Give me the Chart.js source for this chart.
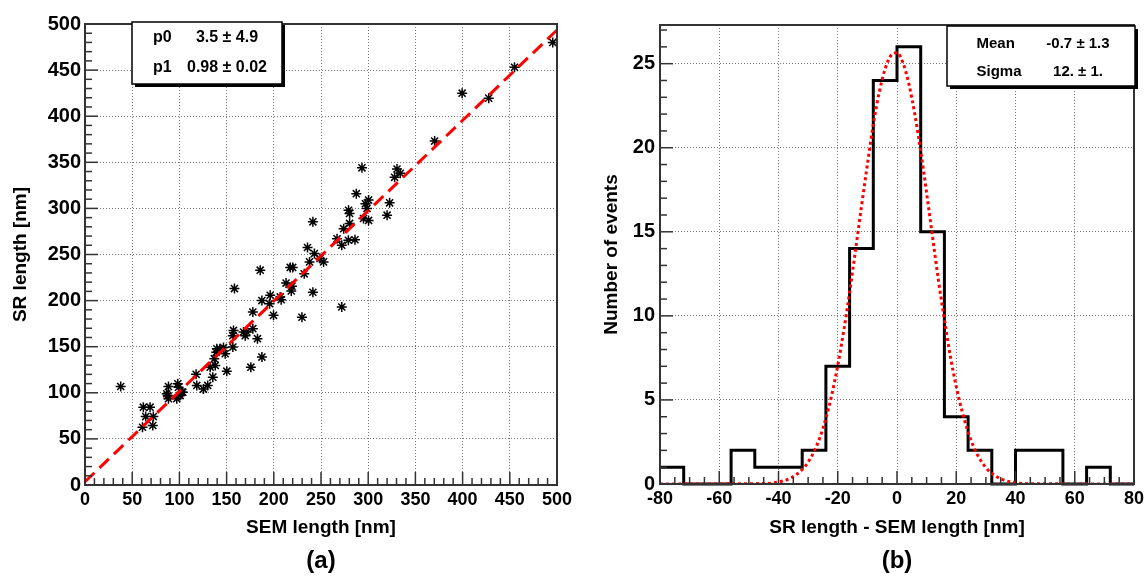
<!DOCTYPE html>
<html>
<head>
<meta charset="utf-8">
<script src="https://cdn.jsdelivr.net/npm/chart.js@4.4.1/dist/chart.umd.min.js"></script>
<style>
  body { margin: 0; background: #fff; width: 1146px; height: 576px; position: relative; overflow: hidden; font-family: "Liberation Sans", Arial, sans-serif; }
  .panel { position: absolute; top: 0; }
  .cap { position: absolute; top: 546px; width: 100px; text-align: center; font-weight: bold; font-size: 24px; line-height: 28px; }
</style>
</head>
<body>
<div class="panel" style="left:0"><canvas id="scatterChart" width="573" height="576"></canvas></div>
<div class="panel" style="left:573px"><canvas id="histChart" width="573" height="576"></canvas></div>
<div class="cap" style="left:271px">(a)</div>
<div class="cap" style="left:847px">(b)</div>
<script>
// (a) SR length vs SEM length, one entry per wire
const semLength = [495.5, 455, 427.7, 399.5, 370.4, 293.4, 330.5, 328, 334, 287.4,
  279.2, 280.3, 297, 300.4, 298.7, 295, 300.4, 280.3, 322.7, 320,
  241.4, 274, 267, 272, 279, 286, 235.7, 243, 249, 37.8,
  61.8, 68.9, 64.3, 72.4, 60.9, 71.8, 88.4, 87.7, 88.4, 98.3,
  99, 97.2, 102.5, 100.7, 117.7, 118.4, 125.5, 130, 132.6, 135.4,
  138, 137, 139, 139.7, 143, 146.7, 148.5, 150.2, 156.6, 156.6,
  157.3, 158.3, 167.9, 169.7, 171.5, 177.8, 182.7, 177.8, 175.7, 187.4,
  185.6, 196.2, 195.5, 187.4, 199.7, 206.8, 207.8, 213, 217.4, 219.2,
  218.5, 220, 232.2, 229.8, 241.4, 237.9, 252.7, 272, 86.6, 103.6];
const srLength = [480, 453, 419.6, 425, 373, 344, 342.7, 333.7, 338, 316,
  298, 294.6, 305, 309, 300, 289, 287, 283.7, 306, 292.7,
  285.4, 278, 267, 260, 265.5, 266, 257.6, 251, 245.6, 106.8,
  84.4, 84.4, 74.2, 74.2, 62.6, 64.5, 106.8, 97, 93.5, 109.8,
  106, 93.5, 100.7, 97, 120, 108, 104, 108, 127.8, 117,
  129.7, 137, 144, 147.8, 147.8, 149, 142.4, 123.5, 149.6, 162,
  167.7, 213, 165.9, 162, 165.9, 169.6, 158.7, 187.6, 127.8, 138.7,
  233, 205.8, 196.7, 200, 184, 204, 201, 219, 236, 215.5,
  210.4, 236, 229, 182, 209, 242, 242, 193, 99, 100.7];
// straight-line fit p0 + p1*x, drawn between its ends
const fitX = [0, 500];
const fitY = [3.5, 493.5];

// (b) histogram of SR - SEM, 8 nm bins
const binEdges = [-80, -72, -64, -56, -48, -40, -32, -24, -16, -8, 0, 8, 16, 24, 32, 40, 48, 56, 64, 72, 80];
const binCounts = [1, 0, 0, 2, 1, 1, 2, 7, 14, 24, 26, 15, 4, 2, 0, 2, 2, 0, 1, 0];
// gaussian fit curve
const gausX = [-80, -44, -40, -36, -32, -30, -28, -26, -24, -22, -20, -18, -16, -14, -12, -10, -8, -6, -4, -2,
  0, 2, 4, 6, 8, 10, 12, 14, 16, 18, 20, 22, 24, 26, 28, 30, 32, 36, 40, 44, 80];
const gausY = [0, 0.03, 0.12, 0.34, 0.86, 1.3, 1.93, 2.78, 3.9, 5.32, 7.05, 9.09, 11.4, 13.9, 16.5, 19.0, 21.4, 23.3, 24.7, 25.5,
  25.65, 25.05, 23.8, 22.0, 19.8, 17.3, 14.7, 12.1, 9.8, 7.6, 5.8, 4.3, 3.1, 2.16, 1.47, 0.98, 0.63, 0.24, 0.08, 0.02, 0];

const FONT = '"Liberation Sans", Arial, sans-serif';
Chart.defaults.font.family = FONT;
Chart.defaults.color = '#000';

// ROOT-like frame with ticks pointing into the plot
const rootAxes = {
  id: 'rootAxes',
  afterDatasetsDraw(chart, args, opts) {
    const { ctx, chartArea: a, scales: { x, y } } = chart;
    ctx.save();
    ctx.strokeStyle = '#333';
    ctx.lineWidth = 1.5;
    const isMajor = (v, step) => Math.abs(v / step - Math.round(v / step)) < 1e-6;
    for (let v = x.min; v <= x.max + 1e-6; v += opts.xMinor) {
      const px = x.getPixelForValue(v);
      const len = isMajor(v, opts.xMajor) ? 13 : 7;
      ctx.beginPath(); ctx.moveTo(px, a.bottom); ctx.lineTo(px, a.bottom - len); ctx.stroke();
    }
    for (let v = y.min; v <= y.max + 1e-6; v += opts.yMinor) {
      const py = y.getPixelForValue(v);
      const len = isMajor(v, opts.yMajor) ? 13 : 7;
      ctx.beginPath(); ctx.moveTo(a.left, py); ctx.lineTo(a.left + len, py); ctx.stroke();
    }
    ctx.lineWidth = 2;
    ctx.strokeRect(a.left, a.top, a.right - a.left, a.bottom - a.top);
    ctx.restore();
  }
};

// fit parameter box with drop shadow
const statBox = {
  id: 'statBox',
  afterDraw(chart, args, o) {
    const ctx = chart.ctx;
    ctx.save();
    ctx.fillStyle = '#000';
    ctx.fillRect(o.x + 3, o.y + 3, o.w, o.h);
    ctx.fillStyle = '#fff';
    ctx.fillRect(o.x, o.y, o.w, o.h);
    ctx.strokeStyle = '#000';
    ctx.lineWidth = 1.5;
    ctx.strokeRect(o.x, o.y, o.w, o.h);
    ctx.fillStyle = '#000';
    ctx.font = 'bold ' + o.size + 'px ' + FONT;
    ctx.textBaseline = 'middle';
    o.rows.forEach((r, i) => {
      ctx.textAlign = 'left';
      ctx.fillText(r[0], o.labelX, o.rowY[i]);
      ctx.textAlign = 'center';
      ctx.fillText(r[1], o.valueX, o.rowY[i]);
    });
    ctx.restore();
  }
};

function axisX(min, max, step, title, fitHeight) {
  return {
    type: 'linear', min: min, max: max,
    ticks: { stepSize: step, padding: 4, maxRotation: 0, autoSkip: false, includeBounds: false,
      font: { size: 18, weight: 'bold' } },
    grid: { color: '#777', lineWidth: 1, drawTicks: false },
    border: { display: false, dash: [1, 2] },
    title: { display: true, text: title, font: { size: 19, weight: 'bold' }, padding: { top: 0, bottom: 36.6 } },
    afterFit(s) { s.height = fitHeight; s.paddingLeft = 0; s.paddingRight = 0; }
  };
}

function axisY(min, max, step, title, fitWidth, pad, titlePad) {
  return {
    type: 'linear', min: min, max: max,
    ticks: { stepSize: step, padding: pad, includeBounds: false, font: { size: 20, weight: 'bold' } },
    grid: { color: '#777', lineWidth: 1, drawTicks: false },
    border: { display: false, dash: [1, 2] },
    title: { display: true, text: title, font: { size: 19, weight: 'bold' }, padding: { top: titlePad, bottom: 0 } },
    afterFit(s) { s.width = fitWidth; s.paddingTop = 0; s.paddingBottom = 0; }
  };
}

new Chart(document.getElementById('scatterChart'), {
  type: 'scatter',
  data: {
    datasets: [
      {
        type: 'line',
        data: fitX.map((x, i) => ({ x: x, y: fitY[i] })),
        borderColor: '#ff0000', borderWidth: 3, borderDash: [13, 7], pointRadius: 0, fill: false
      },
      {
        data: semLength.map((x, i) => ({ x: x, y: srLength[i] })),
        pointStyle: 'star', pointRadius: 5, borderColor: '#000', backgroundColor: '#000', borderWidth: 1.5
      }
    ]
  },
  options: {
    responsive: false, animation: false, devicePixelRatio: 1,
    layout: { padding: { top: 24, right: 16, bottom: 0, left: 0 } },
    plugins: {
      legend: { display: false }, tooltip: { enabled: false },
      rootAxes: { xMinor: 10, xMajor: 50, yMinor: 10, yMajor: 50 },
      statBox: { x: 132, y: 22, w: 150, h: 62, size: 16, labelX: 153, valueX: 227, rowY: [37.5, 67.5],
        rows: [['p0', '3.5 \u00b1 4.9'], ['p1', '0.98 \u00b1 0.02']] }
    },
    scales: {
      x: axisX(0, 500, 50, 'SEM length [nm]', 91),
      y: axisY(0, 500, 50, 'SR length [nm]', 85, 4, 9.6)
    }
  },
  plugins: [rootAxes, statBox]
});

new Chart(document.getElementById('histChart'), {
  type: 'scatter',
  data: {
    datasets: [
      {
        type: 'line',
        data: gausX.map((x, i) => ({ x: x, y: gausY[i] })),
        borderColor: '#ff0000', borderWidth: 3, borderDash: [3, 3], pointRadius: 0, fill: false,
        cubicInterpolationMode: 'monotone'
      },
      {
        type: 'line',
        data: binEdges.map((x, i) => ({ x: x, y: binCounts[Math.min(i, binCounts.length - 1)] })),
        stepped: true, borderColor: '#000', borderWidth: 3, pointRadius: 0, fill: false, clip: 4
      }
    ]
  },
  options: {
    responsive: false, animation: false, devicePixelRatio: 1,
    layout: { padding: { top: 25, right: 12, bottom: 0, left: 0 } },
    plugins: {
      legend: { display: false }, tooltip: { enabled: false },
      rootAxes: { xMinor: 5, xMajor: 20, yMinor: 1, yMajor: 5 },
      statBox: { x: 374, y: 26, w: 188, h: 60, size: 15, labelX: 403.5, valueX: 505, rowY: [43.5, 71.5],
        rows: [['Mean', '-0.7 \u00b1 1.3'], ['Sigma', '12. \u00b1 1.']] }
    },
    scales: {
      x: axisX(-80, 80, 20, 'SR length - SEM length [nm]', 92),
      y: axisY(0, 27.3, 5, 'Number of events', 87, 5, 27.2)
    }
  },
  plugins: [rootAxes, statBox]
});
</script>
</body>
</html>
